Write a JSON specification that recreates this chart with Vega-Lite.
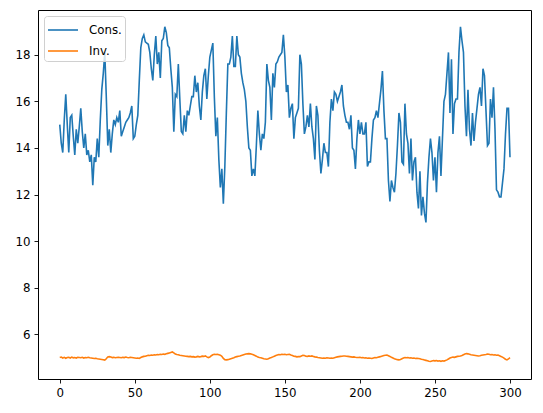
{
  "$schema": "https://vega.github.io/schema/vega-lite/v6.json",
  "width": 493,
  "height": 369,
  "autosize": {"type": "none"},
  "padding": {"left": 38, "top": 10, "right": 12, "bottom": 34},
  "data": {"values": [
{"t":0,"Cons":15.0,"Inv":5.00},{"t":1,"Cons":14.2,"Inv":5.02},{"t":2,"Cons":13.8,"Inv":4.98},{"t":3,"Cons":15.2,"Inv":5.01},{"t":4,"Cons":16.3,"Inv":4.97},{"t":5,"Cons":15.0,"Inv":5.00},{"t":6,"Cons":13.8,"Inv":5.01},{"t":7,"Cons":15.3,"Inv":4.98},{"t":8,"Cons":15.4,"Inv":5.02},{"t":9,"Cons":14.5,"Inv":4.99},
{"t":10,"Cons":13.7,"Inv":5.00},{"t":11,"Cons":14.8,"Inv":4.98},{"t":12,"Cons":14.2,"Inv":5.01},{"t":13,"Cons":14.9,"Inv":5.00},{"t":14,"Cons":15.7,"Inv":4.99},{"t":15,"Cons":14.7,"Inv":5.01},{"t":16,"Cons":14.0,"Inv":4.98},{"t":17,"Cons":14.6,"Inv":5.00},{"t":18,"Cons":13.7,"Inv":4.99},{"t":19,"Cons":13.9,"Inv":5.01},
{"t":20,"Cons":13.4,"Inv":4.99},{"t":21,"Cons":13.7,"Inv":4.98},{"t":22,"Cons":12.4,"Inv":4.97},{"t":23,"Cons":13.6,"Inv":4.96},{"t":24,"Cons":13.4,"Inv":4.97},{"t":25,"Cons":14.4,"Inv":4.95},{"t":26,"Cons":13.6,"Inv":4.94},{"t":27,"Cons":15.2,"Inv":4.93},{"t":28,"Cons":16.5,"Inv":4.92},{"t":29,"Cons":17.2,"Inv":4.91},
{"t":30,"Cons":18.1,"Inv":4.89},{"t":31,"Cons":16.2,"Inv":4.95},{"t":32,"Cons":14.1,"Inv":5.03},{"t":33,"Cons":14.8,"Inv":5.04},{"t":34,"Cons":13.8,"Inv":5.02},{"t":35,"Cons":14.6,"Inv":5.00},{"t":36,"Cons":15.2,"Inv":5.01},{"t":37,"Cons":15.0,"Inv":4.99},{"t":38,"Cons":15.3,"Inv":5.00},{"t":39,"Cons":15.1,"Inv":5.01},
{"t":40,"Cons":15.6,"Inv":5.00},{"t":41,"Cons":14.5,"Inv":4.99},{"t":42,"Cons":14.7,"Inv":5.01},{"t":43,"Cons":14.9,"Inv":5.00},{"t":44,"Cons":15.1,"Inv":5.02},{"t":45,"Cons":15.2,"Inv":5.00},{"t":46,"Cons":15.3,"Inv":4.99},{"t":47,"Cons":15.5,"Inv":5.01},{"t":48,"Cons":15.8,"Inv":5.00},{"t":49,"Cons":14.4,"Inv":4.99},
{"t":50,"Cons":14.5,"Inv":4.98},{"t":51,"Cons":15.0,"Inv":4.97},{"t":52,"Cons":15.4,"Inv":4.98},{"t":53,"Cons":16.9,"Inv":4.96},{"t":54,"Cons":18.3,"Inv":5.00},{"t":55,"Cons":18.7,"Inv":5.03},{"t":56,"Cons":18.85,"Inv":5.05},{"t":57,"Cons":18.55,"Inv":5.06},{"t":58,"Cons":18.5,"Inv":5.08},{"t":59,"Cons":18.45,"Inv":5.10},
{"t":60,"Cons":18.1,"Inv":5.09},{"t":61,"Cons":17.4,"Inv":5.11},{"t":62,"Cons":16.9,"Inv":5.10},{"t":63,"Cons":18.0,"Inv":5.12},{"t":64,"Cons":18.8,"Inv":5.11},{"t":65,"Cons":17.6,"Inv":5.13},{"t":66,"Cons":18.1,"Inv":5.12},{"t":67,"Cons":17.0,"Inv":5.14},{"t":68,"Cons":18.6,"Inv":5.13},{"t":69,"Cons":18.7,"Inv":5.15},
{"t":70,"Cons":19.2,"Inv":5.14},{"t":71,"Cons":18.95,"Inv":5.16},{"t":72,"Cons":18.4,"Inv":5.18},{"t":73,"Cons":18.3,"Inv":5.20},{"t":74,"Cons":17.4,"Inv":5.22},{"t":75,"Cons":16.6,"Inv":5.24},{"t":76,"Cons":14.7,"Inv":5.20},{"t":77,"Cons":16.3,"Inv":5.15},{"t":78,"Cons":16.2,"Inv":5.13},{"t":79,"Cons":17.6,"Inv":5.12},
{"t":80,"Cons":16.1,"Inv":5.10},{"t":81,"Cons":14.7,"Inv":5.09},{"t":82,"Cons":14.6,"Inv":5.08},{"t":83,"Cons":15.4,"Inv":5.07},{"t":84,"Cons":14.7,"Inv":5.06},{"t":85,"Cons":15.6,"Inv":5.05},{"t":86,"Cons":15.4,"Inv":5.04},{"t":87,"Cons":15.8,"Inv":5.05},{"t":88,"Cons":16.2,"Inv":5.03},{"t":89,"Cons":16.2,"Inv":5.04},
{"t":90,"Cons":17.1,"Inv":5.02},{"t":91,"Cons":16.4,"Inv":5.03},{"t":92,"Cons":16.8,"Inv":5.05},{"t":93,"Cons":15.8,"Inv":5.03},{"t":94,"Cons":15.2,"Inv":5.04},{"t":95,"Cons":16.4,"Inv":5.06},{"t":96,"Cons":17.1,"Inv":5.05},{"t":97,"Cons":17.4,"Inv":5.07},{"t":98,"Cons":16.1,"Inv":5.03},{"t":99,"Cons":17.1,"Inv":5.00},
{"t":100,"Cons":17.9,"Inv":5.02},{"t":101,"Cons":18.2,"Inv":5.08},{"t":102,"Cons":18.5,"Inv":5.12},{"t":103,"Cons":16.2,"Inv":5.14},{"t":104,"Cons":14.5,"Inv":5.13},{"t":105,"Cons":15.3,"Inv":5.14},{"t":106,"Cons":13.5,"Inv":5.12},{"t":107,"Cons":12.3,"Inv":5.10},{"t":108,"Cons":13.1,"Inv":5.05},{"t":109,"Cons":11.6,"Inv":4.96},
{"t":110,"Cons":13.2,"Inv":4.91},{"t":111,"Cons":15.5,"Inv":4.90},{"t":112,"Cons":17.6,"Inv":4.91},{"t":113,"Cons":17.6,"Inv":4.93},{"t":114,"Cons":17.9,"Inv":4.95},{"t":115,"Cons":18.8,"Inv":4.97},{"t":116,"Cons":17.5,"Inv":4.99},{"t":117,"Cons":17.5,"Inv":5.02},{"t":118,"Cons":18.8,"Inv":5.04},{"t":119,"Cons":18.0,"Inv":5.06},
{"t":120,"Cons":17.9,"Inv":5.07},{"t":121,"Cons":17.2,"Inv":5.09},{"t":122,"Cons":16.8,"Inv":5.11},{"t":123,"Cons":16.5,"Inv":5.13},{"t":124,"Cons":16.0,"Inv":5.15},{"t":125,"Cons":14.9,"Inv":5.16},{"t":126,"Cons":14.0,"Inv":5.17},{"t":127,"Cons":13.9,"Inv":5.16},{"t":128,"Cons":12.8,"Inv":5.14},{"t":129,"Cons":13.1,"Inv":5.12},
{"t":130,"Cons":12.8,"Inv":5.09},{"t":131,"Cons":14.1,"Inv":5.06},{"t":132,"Cons":15.6,"Inv":5.02},{"t":133,"Cons":14.6,"Inv":5.00},{"t":134,"Cons":13.9,"Inv":4.99},{"t":135,"Cons":14.6,"Inv":4.97},{"t":136,"Cons":14.4,"Inv":4.95},{"t":137,"Cons":15.1,"Inv":4.94},{"t":138,"Cons":17.6,"Inv":4.93},{"t":139,"Cons":16.9,"Inv":4.95},
{"t":140,"Cons":16.6,"Inv":4.98},{"t":141,"Cons":15.2,"Inv":5.00},{"t":142,"Cons":17.2,"Inv":5.03},{"t":143,"Cons":16.6,"Inv":5.06},{"t":144,"Cons":17.6,"Inv":5.09},{"t":145,"Cons":17.7,"Inv":5.11},{"t":146,"Cons":17.9,"Inv":5.13},{"t":147,"Cons":18.0,"Inv":5.12},{"t":148,"Cons":18.1,"Inv":5.14},{"t":149,"Cons":18.85,"Inv":5.13},
{"t":150,"Cons":17.9,"Inv":5.14},{"t":151,"Cons":16.4,"Inv":5.12},{"t":152,"Cons":16.7,"Inv":5.13},{"t":153,"Cons":15.3,"Inv":5.14},{"t":154,"Cons":15.7,"Inv":5.11},{"t":155,"Cons":15.9,"Inv":5.09},{"t":156,"Cons":14.4,"Inv":5.06},{"t":157,"Cons":15.3,"Inv":5.05},{"t":158,"Cons":15.5,"Inv":5.03},{"t":159,"Cons":15.7,"Inv":5.04},
{"t":160,"Cons":18.0,"Inv":5.04},{"t":161,"Cons":17.6,"Inv":5.07},{"t":162,"Cons":15.9,"Inv":5.10},{"t":163,"Cons":14.6,"Inv":5.09},{"t":164,"Cons":14.9,"Inv":5.06},{"t":165,"Cons":15.4,"Inv":5.05},{"t":166,"Cons":14.9,"Inv":5.07},{"t":167,"Cons":15.9,"Inv":5.06},{"t":168,"Cons":14.9,"Inv":5.07},{"t":169,"Cons":14.4,"Inv":5.05},
{"t":170,"Cons":13.5,"Inv":5.03},{"t":171,"Cons":15.8,"Inv":5.02},{"t":172,"Cons":15.4,"Inv":5.00},{"t":173,"Cons":13.9,"Inv":4.99},{"t":174,"Cons":12.9,"Inv":4.98},{"t":175,"Cons":13.5,"Inv":4.97},{"t":176,"Cons":14.2,"Inv":4.98},{"t":177,"Cons":13.8,"Inv":4.97},{"t":178,"Cons":13.8,"Inv":4.99},{"t":179,"Cons":13.2,"Inv":4.98},
{"t":180,"Cons":15.1,"Inv":4.97},{"t":181,"Cons":16.1,"Inv":4.98},{"t":182,"Cons":15.6,"Inv":4.97},{"t":183,"Cons":16.4,"Inv":4.99},{"t":184,"Cons":16.3,"Inv":5.01},{"t":185,"Cons":16.0,"Inv":5.03},{"t":186,"Cons":16.2,"Inv":5.04},{"t":187,"Cons":16.4,"Inv":5.05},{"t":188,"Cons":16.7,"Inv":5.06},{"t":189,"Cons":15.8,"Inv":5.07},
{"t":190,"Cons":15.4,"Inv":5.07},{"t":191,"Cons":15.1,"Inv":5.06},{"t":192,"Cons":15.1,"Inv":5.05},{"t":193,"Cons":14.8,"Inv":5.04},{"t":194,"Cons":15.4,"Inv":5.03},{"t":195,"Cons":14.0,"Inv":5.02},{"t":196,"Cons":13.9,"Inv":5.03},{"t":197,"Cons":13.1,"Inv":5.01},{"t":198,"Cons":14.4,"Inv":5.00},{"t":199,"Cons":15.2,"Inv":5.00},
{"t":200,"Cons":14.6,"Inv":5.01},{"t":201,"Cons":15.1,"Inv":4.99},{"t":202,"Cons":14.6,"Inv":5.00},{"t":203,"Cons":14.6,"Inv":4.98},{"t":204,"Cons":15.1,"Inv":4.99},{"t":205,"Cons":13.2,"Inv":4.97},{"t":206,"Cons":13.4,"Inv":4.98},{"t":207,"Cons":13.4,"Inv":4.97},{"t":208,"Cons":14.4,"Inv":4.96},{"t":209,"Cons":15.2,"Inv":4.98},
{"t":210,"Cons":15.3,"Inv":5.00},{"t":211,"Cons":15.6,"Inv":4.99},{"t":212,"Cons":15.3,"Inv":5.01},{"t":213,"Cons":15.9,"Inv":5.03},{"t":214,"Cons":16.5,"Inv":5.05},{"t":215,"Cons":17.3,"Inv":5.07},{"t":216,"Cons":15.6,"Inv":5.09},{"t":217,"Cons":14.4,"Inv":5.10},{"t":218,"Cons":14.4,"Inv":5.11},{"t":219,"Cons":12.6,"Inv":5.08},
{"t":220,"Cons":11.7,"Inv":5.05},{"t":221,"Cons":12.6,"Inv":5.01},{"t":222,"Cons":12.3,"Inv":4.98},{"t":223,"Cons":12.1,"Inv":4.95},{"t":224,"Cons":12.9,"Inv":4.93},{"t":225,"Cons":14.1,"Inv":4.91},{"t":226,"Cons":15.5,"Inv":4.90},{"t":227,"Cons":15.1,"Inv":4.92},{"t":228,"Cons":13.4,"Inv":4.95},{"t":229,"Cons":13.3,"Inv":4.98},
{"t":230,"Cons":15.9,"Inv":5.00},{"t":231,"Cons":14.6,"Inv":4.99},{"t":232,"Cons":14.2,"Inv":5.00},{"t":233,"Cons":12.9,"Inv":4.98},{"t":234,"Cons":14.4,"Inv":4.99},{"t":235,"Cons":12.6,"Inv":4.97},{"t":236,"Cons":13.4,"Inv":4.98},{"t":237,"Cons":13.6,"Inv":4.96},{"t":238,"Cons":12.1,"Inv":4.97},{"t":239,"Cons":11.4,"Inv":4.96},
{"t":240,"Cons":13.0,"Inv":4.95},{"t":241,"Cons":11.1,"Inv":4.93},{"t":242,"Cons":11.9,"Inv":4.92},{"t":243,"Cons":11.2,"Inv":4.90},{"t":244,"Cons":10.8,"Inv":4.88},{"t":245,"Cons":12.5,"Inv":4.86},{"t":246,"Cons":13.6,"Inv":4.84},{"t":247,"Cons":14.4,"Inv":4.83},{"t":248,"Cons":13.8,"Inv":4.85},{"t":249,"Cons":12.6,"Inv":4.87},
{"t":250,"Cons":13.6,"Inv":4.86},{"t":251,"Cons":12.1,"Inv":4.87},{"t":252,"Cons":13.8,"Inv":4.85},{"t":253,"Cons":14.5,"Inv":4.86},{"t":254,"Cons":12.8,"Inv":4.84},{"t":255,"Cons":14.4,"Inv":4.86},{"t":256,"Cons":16.0,"Inv":4.85},{"t":257,"Cons":16.3,"Inv":4.87},{"t":258,"Cons":17.2,"Inv":4.90},{"t":259,"Cons":18.1,"Inv":4.94},
{"t":260,"Cons":15.5,"Inv":4.98},{"t":261,"Cons":17.8,"Inv":5.00},{"t":262,"Cons":14.6,"Inv":5.02},{"t":263,"Cons":15.9,"Inv":5.01},{"t":264,"Cons":16.1,"Inv":5.03},{"t":265,"Cons":16.1,"Inv":5.05},{"t":266,"Cons":18.1,"Inv":5.06},{"t":267,"Cons":19.2,"Inv":5.07},{"t":268,"Cons":18.6,"Inv":5.09},{"t":269,"Cons":18.1,"Inv":5.12},
{"t":270,"Cons":15.8,"Inv":5.15},{"t":271,"Cons":14.5,"Inv":5.17},{"t":272,"Cons":16.5,"Inv":5.16},{"t":273,"Cons":14.8,"Inv":5.14},{"t":274,"Cons":14.1,"Inv":5.12},{"t":275,"Cons":15.5,"Inv":5.11},{"t":276,"Cons":14.3,"Inv":5.10},{"t":277,"Cons":15.1,"Inv":5.09},{"t":278,"Cons":15.7,"Inv":5.08},{"t":279,"Cons":16.3,"Inv":5.07},
{"t":280,"Cons":16.6,"Inv":5.08},{"t":281,"Cons":15.8,"Inv":5.10},{"t":282,"Cons":17.4,"Inv":5.11},{"t":283,"Cons":17.1,"Inv":5.12},{"t":284,"Cons":15.6,"Inv":5.13},{"t":285,"Cons":14.1,"Inv":5.15},{"t":286,"Cons":14.2,"Inv":5.14},{"t":287,"Cons":16.1,"Inv":5.12},{"t":288,"Cons":15.3,"Inv":5.13},{"t":289,"Cons":16.6,"Inv":5.11},
{"t":290,"Cons":14.8,"Inv":5.12},{"t":291,"Cons":12.2,"Inv":5.10},{"t":292,"Cons":12.1,"Inv":5.11},{"t":293,"Cons":11.9,"Inv":5.08},{"t":294,"Cons":11.9,"Inv":5.05},{"t":295,"Cons":12.5,"Inv":5.02},{"t":296,"Cons":13.1,"Inv":4.98},{"t":297,"Cons":14.6,"Inv":4.93},{"t":298,"Cons":15.7,"Inv":4.90},{"t":299,"Cons":15.7,"Inv":4.94},
{"t":300,"Cons":13.6,"Inv":5.00}
  ]},
  "transform": [{"fold": ["Cons", "Inv"], "as": ["series", "value"]}],
  "mark": {"type": "line", "strokeWidth": 1.6, "clip": true},
  "encoding": {
    "x": {"field": "t", "type": "quantitative", "scale": {"domain": [-14.5, 314], "nice": false, "zero": false},
          "axis": {"values": [0, 50, 100, 150, 200, 250, 300], "title": null}},
    "y": {"field": "value", "type": "quantitative", "scale": {"domain": [4.08, 19.92], "nice": false, "zero": false},
          "axis": {"values": [6, 8, 10, 12, 14, 16, 18], "title": null}},
    "color": {"field": "series", "type": "nominal",
              "scale": {"domain": ["Cons", "Inv"], "range": ["#1f77b4", "#ff7f0e"]},
              "legend": {"title": null, "labelExpr": "datum.label + '.\u00a0\u00a0'"}}
  },
  "config": {
    "font": "DejaVu Sans",
    "view": {"stroke": "#000000", "strokeWidth": 1},
    "axis": {"domain": false, "grid": false, "tickColor": "#000000", "tickSize": 4, "tickWidth": 0.9,
             "labelColor": "#000000", "labelFont": "DejaVu Sans", "labelFontSize": 11.8, "labelPadding": 4},
    "legend": {"orient": "top-left", "offset": 6, "strokeColor": "#d0d0d0", "fillColor": "rgba(255,255,255,0.8)",
               "cornerRadius": 3, "padding": 3, "symbolType": "M-1,0H2", "symbolSize": 400, "symbolStrokeWidth": 1.6,
               "labelFont": "DejaVu Sans", "labelFontSize": 11.8, "labelColor": "#000000", "labelOffset": 20, "rowPadding": 3}
  }
}
